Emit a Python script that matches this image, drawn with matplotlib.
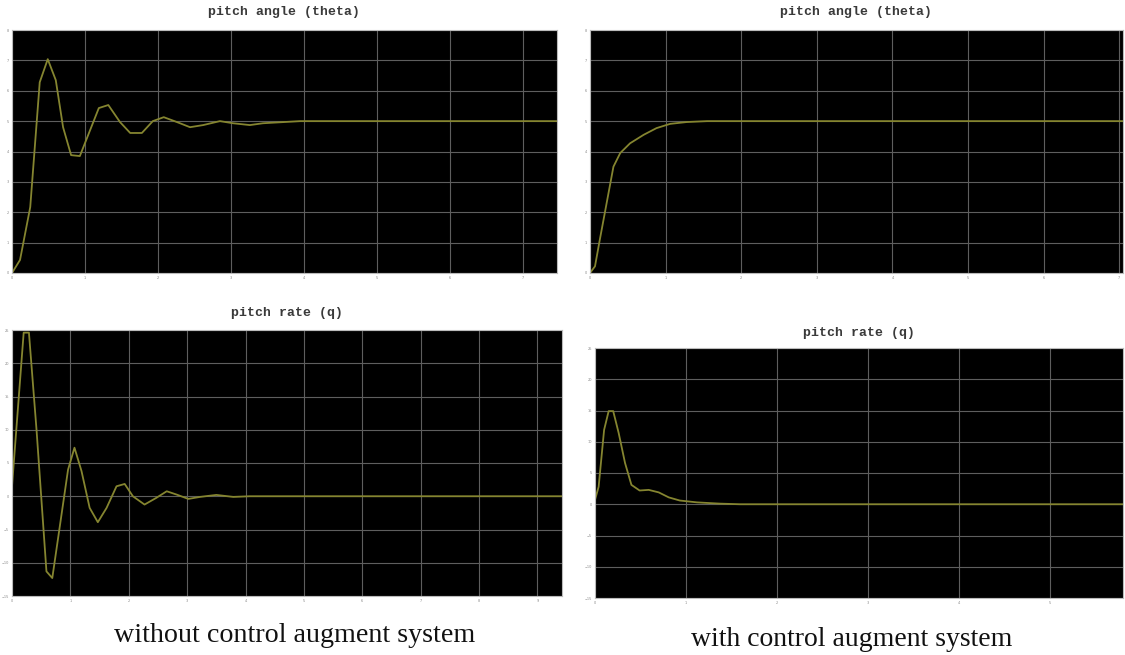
import matplotlib.pyplot as plt
import numpy as np

# pitch angle, no augmentation
t_theta_open = [0, 0.11, 0.25, 0.38, 0.49, 0.60, 0.70, 0.81, 0.93, 1.07, 1.19, 1.32, 1.48, 1.62,
                1.78, 1.93, 2.08, 2.26, 2.44, 2.62, 2.85, 3.03, 3.26, 3.44, 3.95, 7.47]
theta_open = [0, 0.43, 2.17, 6.28, 7.04, 6.35, 4.80, 3.88, 3.85, 4.70, 5.43, 5.53, 4.97, 4.61,
              4.61, 5.00, 5.13, 4.97, 4.80, 4.87, 5.0, 4.93, 4.87, 4.93, 5.0, 5.0]

# pitch rate, no augmentation
t_q_open = [0, 0.20, 0.29, 0.42, 0.59, 0.69, 0.96, 1.07, 1.19, 1.33, 1.47, 1.62, 1.79, 1.93,
            2.07, 2.27, 2.47, 2.65, 2.82, 3.02, 3.22, 3.5, 3.79, 4.07, 9.42]
q_open = [1.5, 24.6, 24.6, 10.0, -11.3, -12.3, 4.0, 7.3, 3.8, -1.75, -3.9, -1.75, 1.5, 1.85,
          0.0, -1.25, -0.25, 0.75, 0.25, -0.4, -0.1, 0.2, -0.1, 0.0, 0.0]

# pitch angle, with augmentation
t_theta_cas = [0, 0.066, 0.13, 0.22, 0.31, 0.40, 0.53, 0.71, 0.88, 1.06, 1.28, 1.55, 7.05]
theta_cas = [0, 0.22, 1.1, 2.3, 3.5, 3.95, 4.27, 4.55, 4.77, 4.91, 4.97, 5.0, 5.0]

# pitch rate, with augmentation
t_q_cas = [0, 0.04, 0.10, 0.15, 0.20, 0.26, 0.33, 0.40, 0.49, 0.59, 0.70, 0.81, 0.93, 1.12,
           1.37, 1.59, 5.8]
q_cas = [0.7, 2.8, 11.9, 14.9, 14.9, 11.4, 6.6, 3.1, 2.2, 2.3, 1.9, 1.1, 0.6, 0.3, 0.1, 0.0, 0.0]

line_col = '#858530'
W, H = 1125, 655

fig = plt.figure(figsize=(11.25, 6.55), dpi=100)


def panel(box, t, y, xmax, ylim, ystep, title, title_y):
    l, tp, r, b = box
    ax = fig.add_axes([l / W, 1 - b / H, (r - l) / W, (b - tp) / H])
    ax.set_facecolor('black')
    ax.plot(t, y, color=line_col, lw=1.3)
    ax.set_xlim(0, xmax)
    ax.set_ylim(*ylim)
    ax.set_xticks(np.arange(0, xmax + 0.01, 1))
    ax.set_yticks(np.arange(ylim[0], ylim[1] + 0.01, ystep))
    ax.grid(True, color='#5e5e5e', lw=0.8)
    ax.tick_params(length=0, labelsize=2.5, colors='#888888', pad=2)
    for s in ax.spines.values():
        s.set_color('#bbbbbb')
        s.set_linewidth(0.8)
    fig.text((l + r) / 2 / W, 1 - title_y / H, title, ha='center', va='center',
             family='Liberation Mono', fontsize=9.5, fontweight='bold', color='#3a3a3a')
    return ax


panel((12, 30, 557, 273), t_theta_open, theta_open, 7.47, (0, 8), 1,
      'pitch angle (theta)', 12)
panel((12, 330, 562, 596), t_q_open, q_open, 9.42, (-15, 25), 5,
      'pitch rate (q)', 313)
panel((590, 30, 1123, 273), t_theta_cas, theta_cas, 7.05, (0, 8), 1,
      'pitch angle (theta)', 12)
panel((595, 348, 1123, 598), t_q_cas, q_cas, 5.8, (-15, 25), 5,
      'pitch rate (q)', 333)

fig.text(295 / W, 1 - 636 / H, 'without control augment system', ha='center', va='center',
         family='Liberation Serif', fontsize=20.2, color='#111111')
fig.text(852 / W, 1 - 639 / H, 'with control augment system', ha='center', va='center',
         family='Liberation Serif', fontsize=20, color='#111111')

fig.savefig('out.png', dpi=100, facecolor='white')
